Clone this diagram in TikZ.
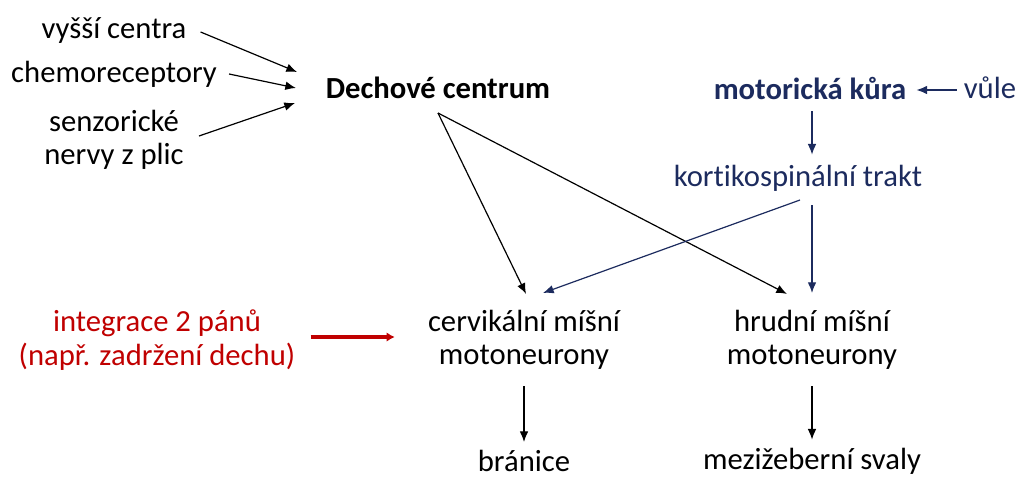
\documentclass[tikz,border=0pt]{standalone}
\usepackage{fontspec}
\setmainfont{Carlito}[Ligatures=NoCommon]
\usetikzlibrary{arrows.meta,calc}
\definecolor{navy}{RGB}{28,43,94}
\definecolor{darkred}{RGB}{192,0,0}

\begin{document}
\begin{tikzpicture}[x=0.75pt,y=-0.75pt]
\tikzset{lbl/.style={font=\fontsize{23}{25}\selectfont,inner sep=0pt,align=center},
    arr/.style={-{Latex[length=8pt,width=6.5pt]},line width=0.9pt},
    blue/.style={navy,text=navy},
    red/.style={darkred,text=darkred}}
\useasboundingbox (0,0) rectangle (1021,479);
% inputs of the respiratory centre
\node[lbl] (vyssi) at (114,30) {vyšší centra};
\node[lbl] (chemo) at (114,74) {chemoreceptory};
\node[lbl] (senz) at (114,140) {senzorické\\nervy z plic};
\node[lbl,font=\fontsize{23}{25}\selectfont\bfseries] (dech) at (438,88) {Dechové centrum};
% voluntary pathway
\node[lbl,blue,font=\fontsize{23}{25}\selectfont\bfseries] (motor) at (810,88) {motorická kůra};
\node[lbl,blue] (vule) at (990,88) {vůle};
\node[lbl,blue] (korti) at (798,178) {kortikospinální trakt};
\node[lbl,red] (integ) at (157,340) {integrace 2 pánů\\(např. zadržení dechu)};
% motoneurons and muscles
\node[lbl] (cerv) at (524,340) {cervikální míšní\\motoneurony};
\node[lbl] (hrud) at (812,340) {hrudní míšní\\motoneurony};
\node[lbl] (bran) at (524,461) {bránice};
\node[lbl] (mezi) at (812,461) {mezižeberní svaly};
\coordinate (in1) at (297,72);
\coordinate (in2) at (296,88);
\coordinate (in3) at (295,103);
\coordinate (dsrc) at (438,113);
\coordinate (ksrc) at (800,200);
\draw[arr] ($(vyssi.east)+(14,2)$) -- (in1);
\draw[arr] ($(chemo.east)+(12,0)$) -- (in2);
\draw[arr] ($(senz.east)+(15,-4)$) -- (in3);
\draw[arr] (dsrc) -- ($(cerv.north)+(2,-16)$);
\draw[arr] (dsrc) -- ($(hrud.north)+(-25,-16)$);
\draw[arr,blue] ($(vule.west)+(-7,2)$) -- ($(motor.east)+(10,2)$);
\draw[arr,blue] ($(motor.south)+(2,12)$) -- ($(korti.north)+(14,-10)$);
\draw[arr,blue] (ksrc) -- ($(cerv.north)+(19,-17)$);
\draw[arr,blue] ($(korti.south)+(14,14)$) -- ($(hrud.north)+(0,-17)$);
\draw[red,-{Latex[length=6pt,width=7pt]},line width=2.6pt] ($(integ.east)+(15,-3)$) -- ($(cerv.west)+(-33,-3)$);
\draw[arr] ($(cerv.south)+(0,16)$) -- ($(bran.north)+(0,-8)$);
\draw[arr] ($(hrud.south)+(0,16)$) -- ($(mezi.north)+(0,-8)$);
\end{tikzpicture}
\end{document}
